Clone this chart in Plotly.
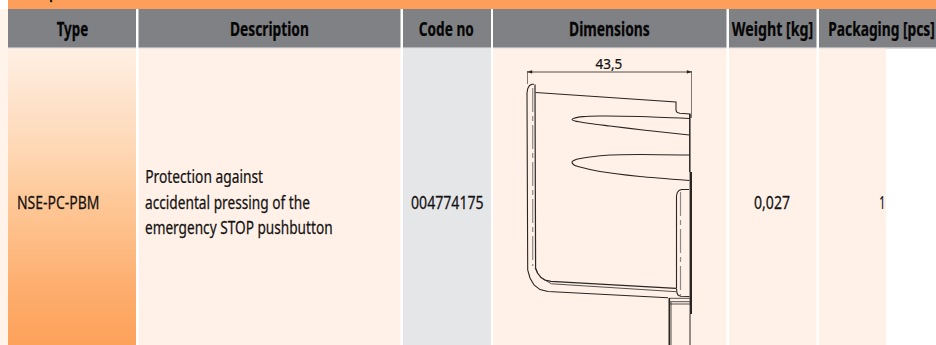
import json
import plotly.graph_objects as go

W, H = 936, 345
FONT = "Noto Sans"

# ---- table content ----
headers = ["Type", "Description", "Code no", "Dimensions", "Weight [kg]", "Packaging [pcs]"]
header_cx = [72.5, 269.5, 446.8, 609.7, 772.5, 881.7]
header_w = [31.5, 79, 55, 80.7, 81.6, 106.7]
type_text = "NSE-PC-PBM"
desc_lines = ["Protection against", "accidental pressing of the", "emergency STOP pushbutton"]
desc_cx = [204.2, 227.5, 238.8]
desc_w = [118.3, 165, 187.7]
desc_y = [176, 202, 227]
code_text = "004774175"
weight_text = "0,027"
pack_text = "1"
dim_text = "43,5"

# ---- table geometry ----
col_left = [8, 138.5, 403, 493, 729, 819]
col_right = [136, 400.5, 491, 726.5, 816.5, 936]
body_right_last = 886
header_top, header_bottom, body_top = 9, 47, 48.5
body_colors = ["#fff1e6", "#fff1e8", "#e5e6e8", "#fff1e8", "#fff1e8", "#fff1e8"]
header_cy = 29
row_cy = 202

# gradient of first column, top to bottom
grad_c = ["#fff0e3", "#fee3cd", "#fed8b6", "#fec999", "#febb83", "#fdab6a", "#fda25b"]

# ---- technical drawing polylines (x, y pixels) ----
dwg_lines = [
    # top plate
    dict(x=[535.5, 676, 676, 676.6, 678, 680, 690, 690], y=[92.5, 102, 110, 112, 112.8, 113.2, 114, 118], w=1.1),
    # upper rib
    dict(x=[689.5, 640, 600, 583, 574, 572, 575, 590, 610, 643, 689.5],
         y=[118.5, 116.5, 116, 116.6, 118.2, 119.4, 121, 123.5, 126, 130, 135], w=1.1, s=1),
    # lower rib
    dict(x=[689.5, 640, 610, 590, 576, 572, 574, 580, 600, 640, 689.5],
         y=[155, 154.5, 155, 157, 159.5, 162, 165, 167, 171.5, 176.5, 180.5], w=1.1, s=1),
    # left wall outer
    dict(x=[534, 532, 529.5, 527.8, 527, 527, 527.7, 530, 534, 540, 548, 668],
         y=[84.2, 84.2, 85.5, 88.5, 93, 263, 270, 278, 285, 289.6, 291.5, 297.8], w=1.1),
    # left wall inner
    dict(x=[535, 535, 535.6, 537.5, 541, 545, 551, 676],
         y=[84.5, 263, 268, 273, 277.5, 280, 281.3, 288.3], w=1.2),
    # left wall mid line
    dict(x=[535, 538, 543, 551.5, 676], y=[268, 274, 279, 283.8, 291.7], w=0.8),
    # right inner wall
    dict(x=[676.5, 677, 678, 680.5, 689.5], y=[288.5, 293, 295, 296.2, 296.5], w=1.1),
    dict(x=[676.5, 676.5, 677.3, 679, 681.5, 689], y=[288.5, 196, 192.5, 190.5, 189.5, 189.5], w=1.1),
    dict(x=[689.8, 689.8], y=[114, 172], w=1.5),
    dict(x=[690.8, 690.8], y=[172, 314], w=2.4),
    # stem
    dict(x=[669.3, 669.3], y=[298, 345], w=1.6),
    dict(x=[671, 671], y=[302, 345], w=0.8),
    dict(x=[690, 690], y=[314, 345], w=1),
    dict(x=[669, 690], y=[298.3, 298.3], w=0.8),
    dict(x=[669, 690], y=[301.7, 301.7], w=0.8),
    dict(x=[669, 690], y=[304, 304], w=0.8),
    # dimension extension + arrow line
    dict(x=[527.5, 527.5], y=[71, 84], w=0.6),
    dict(x=[691.5, 691.5], y=[71, 118], w=0.6),
    dict(x=[527.5, 691.5], y=[72, 72], w=0.8),
]
dash_lines = [
    dict(x=[532.7, 532.7], y=[88, 266], dash="24px,4px,5px,4px"),
    dict(x=[680.5, 680.5], y=[192, 296], dash="24px,4px,5px,4px"),
]
arrow_left = ([527.5, 532, 532], [72, 70.6, 73.4])
arrow_right = ([691.5, 687, 687], [72, 70.6, 73.4])

# ---- figure ----
fig = go.Figure()
shapes = []
def rect(x0, y0, x1, y1, c):
    shapes.append(dict(type="rect", x0=x0, x1=x1, y0=y0, y1=y1, fillcolor=c,
                       line_width=0, layer="below"))

rect(0, 0, W, H, "#ffffff")
rect(0, 9, 8, H, "#fff3ea")
rect(8, 0, W, 9, "#fd9f5b")
for i, (l, r) in enumerate(zip(col_left, col_right)):
    rect(l, header_top, r, header_bottom, "#808184")
    rect(l, header_bottom, r, body_top, "#b5b6b8")
    if i > 0:
        rr = body_right_last if i == 5 else r
        rect(l, body_top, rr, H, body_colors[i])
# title descender sliver
rect(50, 0, 52.2, 2.2, "#2a1a10")

# gradient column (reversed y axis: colorscale runs bottom to top)
n = len(grad_c) - 1
gl, gr = col_left[0], col_right[0]
fig.add_trace(go.Scatter(
    x=[gl, gr, gr, gl, gl], y=[body_top, body_top, H, H, body_top],
    mode="lines", line=dict(width=0), fill="toself", hoverinfo="skip",
    fillgradient=dict(type="vertical",
                      colorscale=[[i / n, c] for i, c in enumerate(reversed(grad_c))])))

for d in dwg_lines:
    line = dict(color="#2a2624", width=d["w"])
    if d.get("s"):
        line.update(shape="spline", smoothing=0.7)
    fig.add_trace(go.Scatter(x=d["x"], y=d["y"], mode="lines", hoverinfo="skip", line=line))
for d in dash_lines:
    fig.add_trace(go.Scatter(x=d["x"], y=d["y"], mode="lines", hoverinfo="skip",
                             line=dict(color="#8c8a88", width=1.2, dash=d["dash"])))
for a in (arrow_left, arrow_right):
    fig.add_trace(go.Scatter(x=a[0], y=a[1], mode="lines", fill="toself", fillcolor="#2a2624",
                             hoverinfo="skip", line=dict(color="#2a2624", width=0.5)))

annos = []
widths = []
def text(cx, y, s, size, w, bold=False, color="#141212"):
    annos.append(dict(x=cx, y=y, xref="x", yref="y", text=f"<b>{s}</b>" if bold else s, showarrow=False,
                      xanchor="center", yanchor="middle", font=dict(family=FONT, size=size, color=color)))
    widths.append(w)

for c, s, w in zip(header_cx, headers, header_w):
    text(c, header_cy, s, 19, w, bold=True, color="#060606")
text(58, row_cy, type_text, 18, 82.6)
for c, y, s, w in zip(desc_cx, desc_y, desc_lines, desc_w):
    text(c, y, s, 18, w)
text(447, row_cy, code_text, 18, 72.6)
text(772, row_cy, weight_text, 18, 36)
text(882, row_cy, pack_text, 18, 6)
text(609.3, 63, dim_text, 15, 26.7)

fig.update_layout(
    width=W, height=H, margin=dict(l=0, r=0, t=0, b=0), autosize=False,
    paper_bgcolor="#ffffff", plot_bgcolor="#ffffff", showlegend=False,
    shapes=shapes, annotations=annos,
    xaxis=dict(range=[0, W], visible=False, fixedrange=True),
    yaxis=dict(range=[H, 0], visible=False, fixedrange=True),
)

# remove the page margin and condense each real text to its measured width
post = """
document.body.style.margin = '0';
var targets = %s;
document.querySelectorAll('text.annotation-text').forEach(function (t, i) {
  var b = t.getBBox();
  var cx = b.x + b.width / 2;
  var s = targets[i] / b.width;
  t.setAttribute('transform', 'translate(' + cx + ',0) scale(' + s + ',1) translate(' + (-cx) + ',0)');
  t.style.stroke = t.style.fill; t.style.strokeWidth = '0.25px';
});
""" % json.dumps(widths)
fig.write_html("out.html", config=dict(displayModeBar=False), post_script=post)
